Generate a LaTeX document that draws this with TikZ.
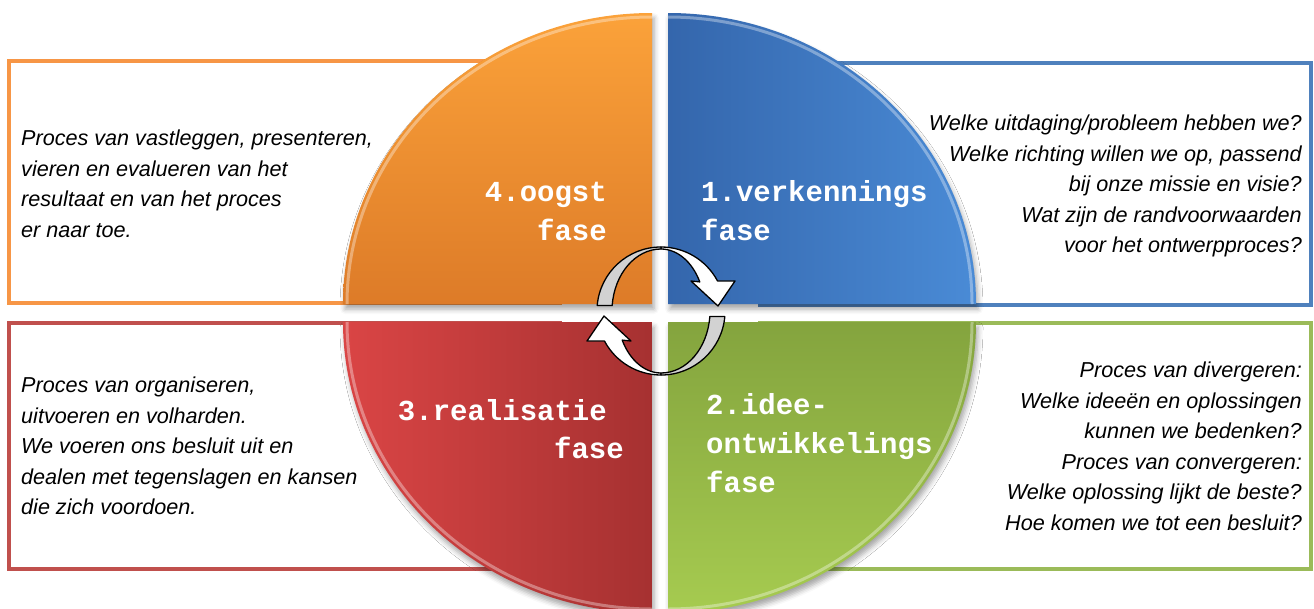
\documentclass[tikz,border=0pt]{standalone}
\usepackage{fontspec}
\setmainfont{Liberation Sans}
\newfontfamily\lblfont{Liberation Mono}
\usetikzlibrary{shadows.blur}
\definecolor{cOr}{HTML}{F79646}
\definecolor{cBl}{HTML}{4F81BD}
\definecolor{cRd}{HTML}{C0504D}
\definecolor{cGr}{HTML}{9BBB59}
\definecolor{orTop}{HTML}{FBA23A}
\definecolor{orBot}{HTML}{DD7B28}
\definecolor{blL}{HTML}{3466AC}
\definecolor{blR}{HTML}{4A8BD6}
\definecolor{rdL}{HTML}{DA4545}
\definecolor{rdR}{HTML}{A63131}
\definecolor{grTop}{HTML}{84A43E}
\definecolor{grBot}{HTML}{A6CB50}
\definecolor{ribgray}{HTML}{D2D2D2}
\newcommand\ringarrowshape{%
  \filldraw[ribbon, fill=white] (661,247) arc[start angle=270,end angle=332,radius=64]
    -- (735,281) -- (718,306) -- (691,281) -- (699.8,281.9)
    arc[start angle=332,end angle=270,x radius=44,y radius=62] -- cycle;
  \filldraw[ribbon, fill=ribgray] (597.2,305.4) arc[start angle=185,end angle=270,radius=64]
    -- (661,249) arc[start angle=270,end angle=185,x radius=49,y radius=62] -- cycle;
}
\begin{document}
\begin{tikzpicture}[x=1pt,y=-1pt,
  box/.style={line width=4pt, fill=white},
  quad/.style={blur shadow={shadow xshift=2pt,shadow yshift=-5pt,shadow blur radius=5pt,shadow opacity=35}},
  rim/.style={white, opacity=.35, line width=3pt},
  lbl/.style={font=\fontsize{29}{39}\selectfont\lblfont\bfseries, text=white, inner sep=0pt},
  desc/.style={font=\fontsize{21.6}{30.5}\selectfont\itshape, inner sep=0pt},
  ribbon/.style={draw=black, line width=1.3pt, line join=round}]
\useasboundingbox (0,0) rectangle (1314,608);
% text boxes
\draw[box, draw=cOr] (9,61) rectangle (560,303);
\draw[box, draw=cBl] (760,63) rectangle (1311,305);
\draw[box, draw=cRd] (9,323) rectangle (560,569);
\draw[box, draw=cGr] (760,323) rectangle (1311,569);
% quadrants
\path[quad, top color=orTop, bottom color=orBot] (652,304) -- (343,304)
  arc[start angle=180,end angle=270,x radius=309,y radius=291] -- cycle;
\path[quad, left color=blL, right color=blR] (668,304) -- (668,13)
  arc[start angle=270,end angle=360,x radius=308,y radius=291] -- cycle;
\path[quad, left color=rdL, right color=rdR] (652,322) -- (652,613)
  arc[start angle=90,end angle=180,x radius=309,y radius=291] -- cycle;
\path[quad, top color=grTop, bottom color=grBot] (668,322) -- (976,322)
  arc[start angle=0,end angle=90,x radius=308,y radius=291] -- cycle;
% rims
\draw[rim] (347,304) arc[start angle=180,end angle=270,x radius=305,y radius=287];
\draw[rim] (668,17) arc[start angle=270,end angle=360,x radius=304,y radius=287];
\draw[rim] (652,609) arc[start angle=90,end angle=180,x radius=305,y radius=287];
\draw[rim] (972,322) arc[start angle=0,end angle=90,x radius=304,y radius=287];
% phase labels
\node[lbl, anchor=base east] (l4a) at (607,201) {4.oogst};
\node[lbl, anchor=base east] (l4b) at (607,240) {fase};
\node[lbl, anchor=base west] (l1a) at (701,201) {1.verkennings};
\node[lbl, anchor=base west] (l1b) at (701,240) {fase};
\node[lbl, anchor=base east] (l3a) at (607,420) {3.realisatie};
\node[lbl, anchor=base east] (l3b) at (624,458) {fase};
\node[lbl, anchor=base west] (l2a) at (706,414) {2.idee-};
\node[lbl, anchor=base west] (l2b) at (706,453) {ontwikkelings};
\node[lbl, anchor=base west] (l2c) at (706,492) {fase};
% descriptions
\node[desc, anchor=north west, align=left] (t4) at (21,130)
  {Proces van vastleggen, presenteren,\\vieren en evalueren van het\\resultaat en van het proces\\er naar toe.};
\node[desc, anchor=north east, align=right] (t1) at (1302,115)
  {Welke uitdaging/probleem hebben we?\\Welke richting willen we op, passend\\bij onze missie en visie?\\Wat zijn de randvoorwaarden\\voor het ontwerpproces?};
\node[desc, anchor=north west, align=left] (t3) at (21,377)
  {Proces van organiseren,\\uitvoeren en volharden.\\We voeren ons besluit uit en\\dealen met tegenslagen en kansen\\die zich voordoen.};
\node[desc, anchor=north east, align=right] (t2) at (1302,362)
  {Proces van divergeren:\\Welke ideeën en oplossingen\\kunnen we bedenken?\\Proces van convergeren:\\Welke oplossing lijkt de beste?\\Hoe komen we tot een besluit?};
% cycle arrows
\ringarrowshape
\begin{scope}[rotate around={180:(661,311)}]
\ringarrowshape
\end{scope}
\end{tikzpicture}
\end{document}
